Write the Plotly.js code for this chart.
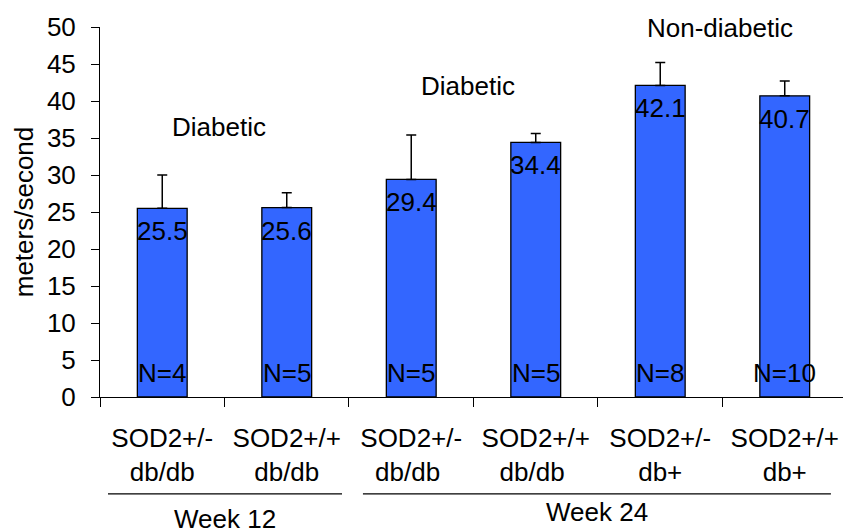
<!DOCTYPE html>
<html>
<head>
<meta charset="utf-8">
<script src="https://cdn.plot.ly/plotly-3.0.1.min.js"></script>
<style>
html,body{margin:0;padding:0;background:#fff;}
#chart{width:843px;height:529px;}
</style>
</head>
<body>
<div id="chart"></div>
<script>
// ---- data ----
var categories = ["SOD2+/-<br>db/db", "SOD2+/+<br>db/db", "SOD2+/-<br>db/db ", "SOD2+/+<br>db/db ", "SOD2+/-<br>db+", "SOD2+/+<br>db+"];
var meanValues = [25.5, 25.6, 29.4, 34.4, 42.1, 40.7];
var errorPlus = [4.5, 2.0, 6.0, 1.2, 3.1, 2.0];
var nLabels = ["N=4", "N=5", "N=5", "N=5", "N=8", "N=10"];
var groupNames = ["Diabetic", "Diabetic", "Non-diabetic"];
var groupNameX = [0.456, 2.452, 4.48];
var groupNameY = [36.5, 42.0, 49.8];
var weekNames = ["Week 12", "Week 24"];
var weekStart = [-0.436, 1.612];
var weekEnd = [1.444, 5.371];

var FONT = "Liberation Sans, Arial, Helvetica, sans-serif";
var FS = 26;

var trace = {
  type: "bar",
  x: categories,
  y: meanValues,
  width: 0.4,
  marker: {color: "#3366FF", line: {color: "#000000", width: 1.3}},
  error_y: {type: "data", symmetric: false, array: errorPlus,
            arrayminus: meanValues.map(function(){return 0;}),
            color: "#000000", thickness: 1.5, width: 5},
  hoverinfo: "none"
};

var annotations = [];
meanValues.forEach(function(v, i){
  annotations.push({x: i, y: v, xref: "x", yref: "y", text: v.toFixed(1),
    showarrow: false, yanchor: "middle", xanchor: "center", yshift: -23,
    font: {family: FONT, size: FS, color: "#000"}});
  annotations.push({x: i, y: 0, xref: "x", yref: "y", text: nLabels[i],
    showarrow: false, yanchor: "middle", xanchor: "center", yshift: 24,
    font: {family: FONT, size: FS, color: "#000"}});
});
groupNames.forEach(function(t, i){
  annotations.push({x: groupNameX[i], y: groupNameY[i], xref: "x", yref: "y", text: t,
    showarrow: false, yanchor: "middle", xanchor: "center",
    font: {family: FONT, size: FS, color: "#000"}});
});
var weekLabelY = [-0.331, -0.311];
var shapes = [];
weekNames.forEach(function(t, i){
  shapes.push({type: "line", xref: "x", yref: "paper", x0: weekStart[i], x1: weekEnd[i],
    y0: -0.262, y1: -0.262, line: {color: "#000", width: 1.3}});
  annotations.push({x: (weekStart[i] + weekEnd[i]) / 2, y: weekLabelY[i], xref: "x", yref: "paper",
    text: t, showarrow: false, yanchor: "middle", xanchor: "center",
    font: {family: FONT, size: FS, color: "#000"}});
});

var layout = {
  width: 843, height: 529,
  margin: {l: 100, r: 0, t: 27, b: 132, pad: 0},
  paper_bgcolor: "#fff", plot_bgcolor: "#fff",
  showlegend: false,
  font: {family: FONT, size: FS, color: "#000"},
  xaxis: {
    type: "category", range: [-0.5, 5.468],
    showline: true, linecolor: "#000", linewidth: 1,
    ticks: "outside", tickson: "boundaries", ticklen: 9, tickcolor: "#000", tickwidth: 1,
    ticklabelstandoff: 18,
    showgrid: false, zeroline: false, fixedrange: true,
    tickfont: {family: FONT, size: FS, color: "#000"}
  },
  yaxis: {
    range: [0, 50], dtick: 5, tick0: 0,
    showline: true, linecolor: "#000", linewidth: 1,
    ticks: "outside", ticklen: 8, tickcolor: "#000", tickwidth: 1,
    ticklabelstandoff: 10,
    showgrid: false, zeroline: false, fixedrange: true,
    tickfont: {family: FONT, size: FS, color: "#000"},
    title: {text: "meters/second", standoff: 5, font: {family: FONT, size: FS, color: "#000"}}
  },
  annotations: annotations,
  shapes: shapes
};

Plotly.newPlot("chart", [trace], layout, {staticPlot: true, displayModeBar: false});
</script>
</body>
</html>
